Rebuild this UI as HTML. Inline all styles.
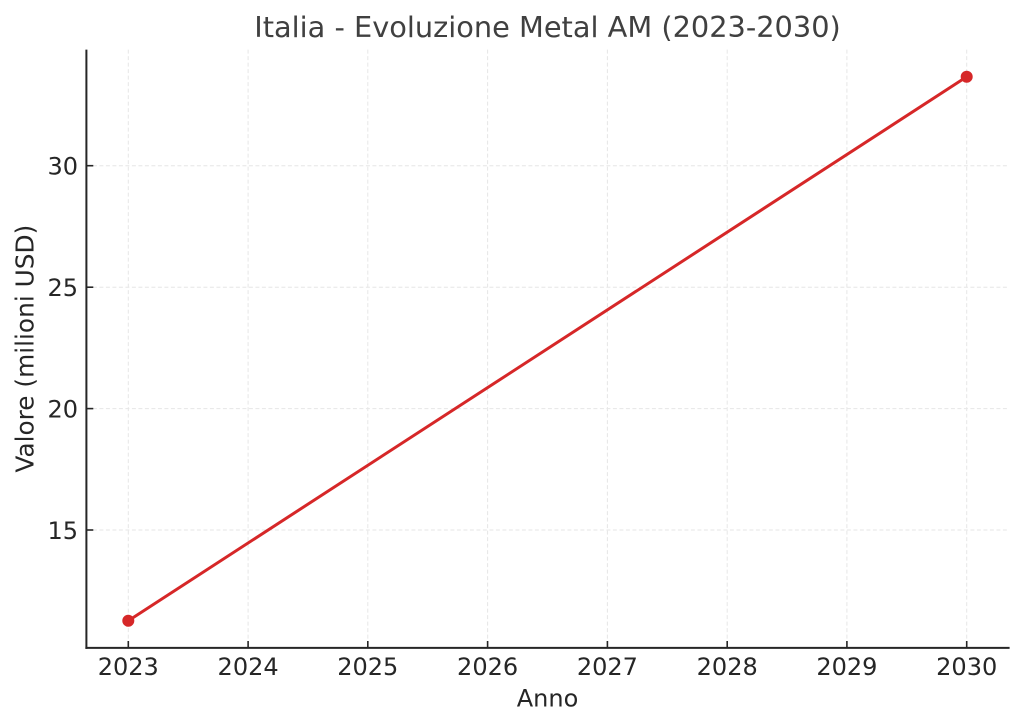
<!DOCTYPE html>
<html>
<head>
<meta charset="utf-8">
<style>
  html,body{margin:0;padding:0;background:#fff;}
  svg{display:block;}
  text{font-family:"DejaVu Sans","Liberation Sans",sans-serif;}
</style>
</head>
<body>
<svg width="1024" height="727" viewBox="0 0 1024 727" xmlns="http://www.w3.org/2000/svg">
  <rect x="0" y="0" width="1024" height="727" fill="#ffffff"/>

  <!-- grid -->
  <g stroke="#e6e6e6" stroke-width="1" stroke-dasharray="4,2.5" fill="none">
    <line x1="128.3" y1="49.6" x2="128.3" y2="647.9"/>
    <line x1="248.1" y1="49.6" x2="248.1" y2="647.9"/>
    <line x1="367.8" y1="49.6" x2="367.8" y2="647.9"/>
    <line x1="487.6" y1="49.6" x2="487.6" y2="647.9"/>
    <line x1="607.4" y1="49.6" x2="607.4" y2="647.9"/>
    <line x1="727.2" y1="49.6" x2="727.2" y2="647.9"/>
    <line x1="846.9" y1="49.6" x2="846.9" y2="647.9"/>
    <line x1="966.7" y1="49.6" x2="966.7" y2="647.9"/>
    <line x1="86.4" y1="530.0" x2="1008.6" y2="530.0"/>
    <line x1="86.4" y1="408.6" x2="1008.6" y2="408.6"/>
    <line x1="86.4" y1="287.2" x2="1008.6" y2="287.2"/>
    <line x1="86.4" y1="165.7" x2="1008.6" y2="165.7"/>
  </g>

  <!-- data line -->
  <polyline points="128.3,620.7 966.7,76.8" fill="none" stroke="#d62728" stroke-width="3" stroke-linecap="round"/>
  <circle cx="128.3" cy="620.7" r="6" fill="#d62728"/>
  <circle cx="966.7" cy="76.8" r="6" fill="#d62728"/>

  <!-- spines -->
  <g stroke="#262626" stroke-width="2" fill="none">
    <line x1="86.4" y1="49.6" x2="86.4" y2="648.9"/>
    <line x1="85.4" y1="647.9" x2="1009.6" y2="647.9"/>
  </g>

  <!-- ticks (inward) -->
  <g stroke="#262626" stroke-width="1.6">
    <line x1="128.3" y1="647.9" x2="128.3" y2="641"/>
    <line x1="248.1" y1="647.9" x2="248.1" y2="641"/>
    <line x1="367.8" y1="647.9" x2="367.8" y2="641"/>
    <line x1="487.6" y1="647.9" x2="487.6" y2="641"/>
    <line x1="607.4" y1="647.9" x2="607.4" y2="641"/>
    <line x1="727.2" y1="647.9" x2="727.2" y2="641"/>
    <line x1="846.9" y1="647.9" x2="846.9" y2="641"/>
    <line x1="966.7" y1="647.9" x2="966.7" y2="641"/>
    <line x1="86.4" y1="530.0" x2="93.3" y2="530.0"/>
    <line x1="86.4" y1="408.6" x2="93.3" y2="408.6"/>
    <line x1="86.4" y1="287.2" x2="93.3" y2="287.2"/>
    <line x1="86.4" y1="165.7" x2="93.3" y2="165.7"/>
  </g>

  <!-- x tick labels -->
  <g fill="#262626" font-size="24" text-anchor="middle">
    <text x="128.3" y="675">2023</text>
    <text x="248.1" y="675">2024</text>
    <text x="367.8" y="675">2025</text>
    <text x="487.6" y="675">2026</text>
    <text x="607.4" y="675">2027</text>
    <text x="727.2" y="675">2028</text>
    <text x="846.9" y="675">2029</text>
    <text x="966.7" y="675">2030</text>
  </g>

  <!-- y tick labels -->
  <g fill="#262626" font-size="24" text-anchor="end">
    <text x="78" y="539">15</text>
    <text x="78" y="417.6">20</text>
    <text x="78" y="296.2">25</text>
    <text x="78" y="174.7">30</text>
  </g>

  <!-- axis labels -->
  <text x="547.5" y="706.5" fill="#262626" font-size="24" text-anchor="middle">Anno</text>
  <text transform="translate(33.5,348.7) rotate(-90)" fill="#262626" font-size="24.8" text-anchor="middle">Valore (milioni USD)</text>

  <!-- title -->
  <text x="547.5" y="37" fill="#404040" font-size="28.8" text-anchor="middle">Italia - Evoluzione Metal AM (2023-2030)</text>
</svg>
</body>
</html>
